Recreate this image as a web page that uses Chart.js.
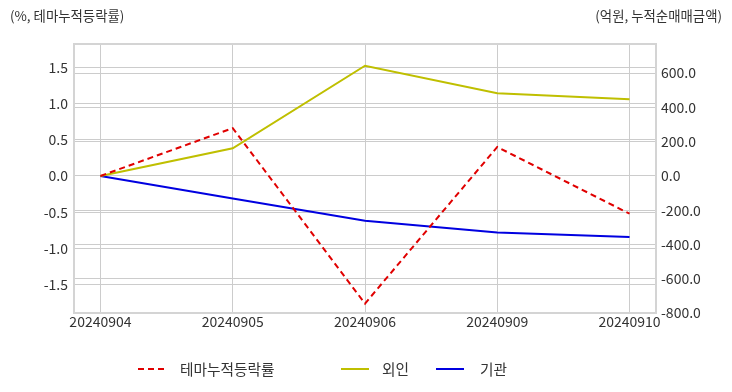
<!DOCTYPE html>
<html>
<head>
<meta charset="utf-8">
<script src="https://cdn.jsdelivr.net/npm/chart.js@4/dist/chart.umd.min.js"></script>
<style>
  body { margin: 0; background: #fff; font-family: "Noto Sans CJK KR", "Noto Sans", sans-serif; color: #333; }
  #wrap { position: relative; width: 732px; height: 392px; }
  #wrap canvas { position: absolute; left: 0; top: 0; }
  .axis-title { position: absolute; top: 5px; font-size: 13.4px; color: #333; white-space: nowrap; }
  .legend-item { position: absolute; top: 358px; font-size: 14.7px; color: #333; white-space: nowrap; }
  .legend-item svg { position: absolute; top: 0; }
</style>
</head>
<body>
<div id="wrap">
  <canvas id="chart" width="732" height="392"></canvas>
  <div class="axis-title" style="left:10px">(%, 테마누적등락률)</div>
  <div class="axis-title" style="right:10px">(억원, 누적순매매금액)</div>
  <div id="legend"></div>
</div>
<script>
// categories
const dates = ['20240904', '20240905', '20240906', '20240909', '20240910'];

// series values
const themeRate = [0.0, 0.66, -1.76, 0.40, -0.52];   // %, left axis
const foreign = [0, 161, 643, 482, 447];              // 억원, right axis
const institution = [0, -132, -262, -330, -357];      // 억원, right axis

// tick labels
const leftTicks = [-1.5, -1.0, -0.5, 0.0, 0.5, 1.0, 1.5];
const rightTicks = [-800, -600, -400, -200, 0, 200, 400, 600];

const gridColor = '#cccccc';
const tickFont = { family: '"Noto Sans CJK KR", "Noto Sans", sans-serif', size: 14 };

const toPoints = (arr) => arr.map((v, i) => ({ x: i, y: v }));

// border around the plot area
const frame = {
  id: 'frame',
  afterDraw(chart) {
    const { ctx, chartArea: a } = chart;
    ctx.save();
    ctx.strokeStyle = '#d4d4d4';
    ctx.lineWidth = 2;
    ctx.strokeRect(a.left, a.top, a.right - a.left, a.bottom - a.top);
    ctx.restore();
  }
};

const series = [
  { label: '테마누적등락률', data: toPoints(themeRate), color: '#e00000', dash: [6, 4], axis: 'y' },
  { label: '외인', data: toPoints(foreign), color: '#bfbf00', dash: [], axis: 'y1' },
  { label: '기관', data: toPoints(institution), color: '#0000e0', dash: [], axis: 'y1' }
];

new Chart(document.getElementById('chart'), {
  type: 'line',
  data: {
    datasets: series.map(s => ({
      label: s.label,
      data: s.data,
      borderColor: s.color,
      backgroundColor: s.color,
      borderDash: s.dash,
      borderWidth: 2,
      pointRadius: 0,
      tension: 0,
      yAxisID: s.axis
    }))
  },
  options: {
    responsive: false,
    animation: false,
    layout: { padding: { top: 44 } },
    plugins: { legend: { display: false }, tooltip: { enabled: false } },
    scales: {
      x: {
        type: 'linear',
        min: -0.2,
        max: 4.2,
        afterBuildTicks: s => { s.ticks = dates.map((d, i) => ({ value: i })); },
        afterFit: s => { s.height = 79; },
        ticks: {
          color: '#333',
          font: tickFont,
          padding: 0,
          maxRotation: 0,
          callback: v => dates[v]
        },
        grid: { color: gridColor, drawTicks: false },
        border: { display: false }
      },
      y: {
        position: 'left',
        min: -1.89,
        max: 1.82,
        afterBuildTicks: s => { s.ticks = leftTicks.map(v => ({ value: v })); },
        afterFit: s => { s.width = 74; },
        ticks: { color: '#333', font: tickFont, padding: 6, callback: v => v.toFixed(1) },
        grid: { color: gridColor, drawTicks: false },
        border: { display: false }
      },
      y1: {
        position: 'right',
        min: -800,
        max: 770,
        afterBuildTicks: s => { s.ticks = rightTicks.map(v => ({ value: v })); },
        afterFit: s => { s.width = 76; },
        ticks: { color: '#333', font: tickFont, padding: 5, callback: v => v.toFixed(1) },
        grid: { color: gridColor, drawTicks: false },
        border: { display: false }
      }
    }
  },
  plugins: [frame]
});

// legend
const legendPos = [
  { line: 138, text: 180 },
  { line: 341, text: 382 },
  { line: 436, text: 480 }
];
const legend = document.getElementById('legend');
series.forEach((s, i) => {
  const item = document.createElement('div');
  item.className = 'legend-item';
  item.style.left = legendPos[i].line + 'px';
  item.innerHTML =
    `<svg width="28" height="22" style="left:0"><line x1="0" y1="11" x2="28" y2="11" stroke="${s.color}" stroke-width="2" stroke-dasharray="${s.dash.join(' ')}"/></svg>` +
    `<span style="position:absolute;left:${legendPos[i].text - legendPos[i].line}px;top:0;">${s.label}</span>`;
  legend.appendChild(item);
});
</script>
</body>
</html>
